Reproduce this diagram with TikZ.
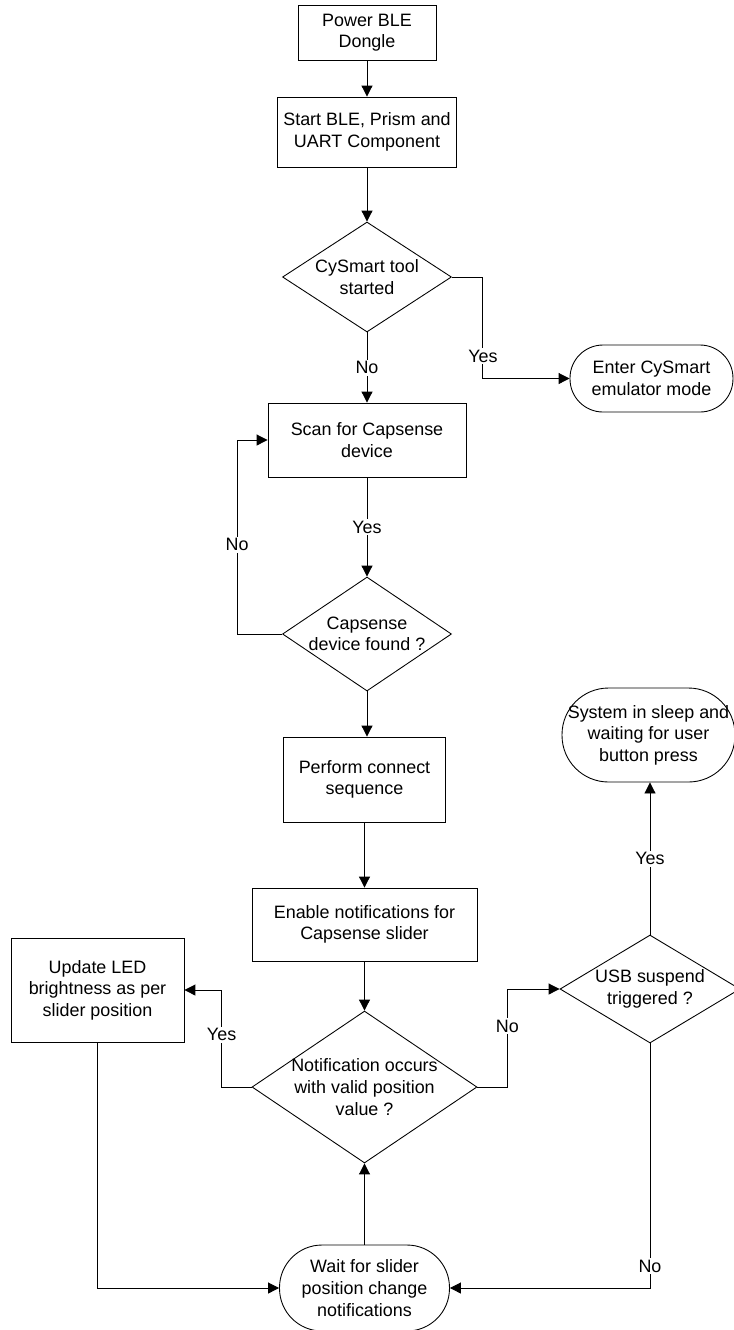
\documentclass[tikz,border=0pt]{standalone}
\usepackage{fontspec}
\setmainfont{Liberation Sans}
\usetikzlibrary{shapes.geometric,arrows.meta}
\tikzset{
  box/.style={draw,align=center,inner sep=0pt},
  decision/.style={draw,diamond,inner sep=0pt},
  terminal/.style={draw,rounded corners=#1,align=center,inner sep=0pt},
  flow/.style={-{Triangle[length=0.22cm,width=0.22cm]}},
  tag/.style={fill=white,inner sep=1pt},
}
\begin{document}
\begin{tikzpicture}[x=0.02cm,y=-0.02cm,font=\fontsize{10.2}{12.3}\selectfont,line width=0.5pt]
\useasboundingbox (0,0) rectangle (734,1330);
% main column
\node[box,minimum width=2.76cm,minimum height=1.1cm] (power) at (367,32.5) {Power BLE\\Dongle};
\node[box,minimum width=3.58cm,minimum height=1.4cm] (start) at (367,132) {Start BLE, Prism and\\UART Component};
\node[decision,minimum width=3.38cm,minimum height=2.2cm,label={[align=center]center:{CySmart tool\\started}}] (cystart) at (367,277) {};
\node[terminal=0.66cm,minimum width=3.26cm,minimum height=1.34cm] (enter) at (651.5,378.5) {Enter CySmart\\emulator mode};
\node[box,minimum width=3.96cm,minimum height=1.48cm] (scan) at (367,440) {Scan for Capsense\\device};
\node[decision,minimum width=3.38cm,minimum height=2.28cm,label={[align=center]center:{Capsense\\device found ?}}] (found) at (367,634) {};
\node[box,minimum width=3.24cm,minimum height=1.7cm] (perform) at (364.5,779.5) {Perform connect\\sequence};
\node[box,minimum width=4.5cm,minimum height=1.46cm] (enable) at (364.5,924.5) {Enable notifications for\\Capsense slider};
\node[decision,minimum width=4.5cm,minimum height=3.04cm,label={[align=center]center:{Notification occurs\\with valid position\\value ?}}] (notif) at (364.5,1087) {};
% side branches
\node[box,minimum width=3.46cm,minimum height=2.08cm] (update) at (97.5,990) {Update LED\\brightness as per\\slider position};
\node[terminal=0.85cm,minimum width=3.4cm,minimum height=1.72cm] (wait) at (364.5,1288) {Wait for slider\\position change\\notifications};
\node[decision,minimum width=3.6cm,minimum height=2.16cm,label={[align=center]center:{USB suspend\\triggered ?}}] (usb) at (650,989) {};
\node[terminal=0.93cm,minimum width=3.46cm,minimum height=1.88cm] (sleep) at (648.5,735) {System in sleep and\\waiting for user\\button press};
% connectors
\foreach \a/\b in {power/start,start/cystart,found/perform,perform/enable,enable/notif}{\draw[flow] (\a.south) -- (\a.south |- \b.north);}
\draw[flow] (cystart.south) -- node[tag] (no1) {No} (scan.north);
\draw[flow] (cystart.east) -- ++(31,0) |- node[tag,pos=.39] (yes1) {Yes} (enter.west);
\draw[flow] (scan.south) -- node[tag] (yes2) {Yes} (found.north);
\draw[flow] (found.west) -- ++(-45,0) |- node[tag,pos=.23] (no2) {No} (scan.west);
\draw[flow] (notif.west) -- ++(-30,0) |- node[tag,pos=.27] (yes3) {Yes} (update.east);
\draw[flow] (update.south) |- (wait.west);
\draw[flow] (wait.north) -- (notif.south);
\draw[flow] (notif.east) -- ++(30,0) |- node[tag,pos=.31] (no3) {No} (usb.west);
\draw[flow] (usb.north) -- node[tag] (yes4) {Yes} (usb.north |- sleep.south);
\draw[flow] (usb.south) |- node[tag,pos=.455] (no4) {No} (wait.east);
\end{tikzpicture}
\end{document}
